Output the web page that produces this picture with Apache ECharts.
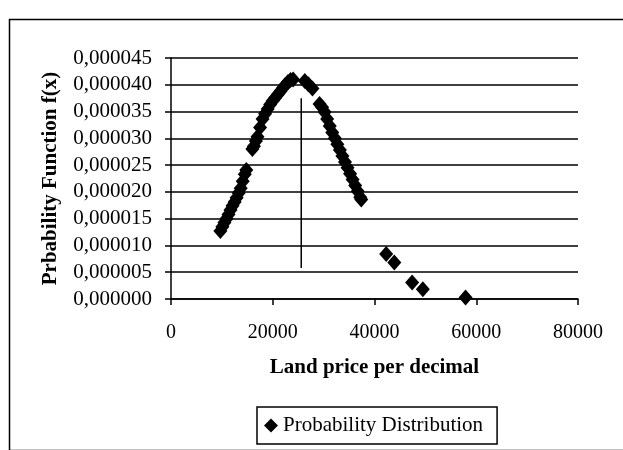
<!DOCTYPE html>
<html>
<head>
<meta charset="utf-8">
<script src="https://cdn.jsdelivr.net/npm/echarts@6/dist/echarts.min.js"></script>
<style>
  html, body { margin: 0; padding: 0; background: #fff; }
  #chart { width: 623px; height: 450px; }
</style>
</head>
<body>
<div id="chart"></div>
<script>
// Land price per decimal (x) and its probability density f(x)
const landPrice = [
  9700, 10100, 10500, 10900, 11300, 11700, 12100, 12500, 12900, 13300, 13700, 14100, 14500, 14800,
  16000, 16300, 16700, 17000, 17500, 18000, 18500, 19000, 19500, 20000, 20500, 21000, 21500, 22000,
  22500, 23000, 23500, 24000,
  26300, 27000, 27800,
  29200, 29700, 30200, 30700, 31200, 31700, 32200, 32700, 33200, 33700, 34200, 34700, 35200, 35700,
  36200, 36700, 37200, 37400,
  42300, 43900, 47400, 49500, 57900
];
const density = [
  0.0000127, 0.0000135, 0.0000143, 0.0000150, 0.0000158, 0.0000166, 0.0000174, 0.0000181, 0.0000189,
  0.0000198, 0.0000207, 0.0000220, 0.0000233, 0.0000241,
  0.0000280, 0.0000285, 0.0000295, 0.0000303, 0.0000320, 0.0000336, 0.0000346, 0.0000355, 0.0000363,
  0.0000370, 0.0000376, 0.0000382, 0.0000388, 0.0000394, 0.0000400, 0.0000405, 0.0000409, 0.0000410,
  0.0000407, 0.0000401, 0.0000393,
  0.0000364, 0.0000358, 0.0000349, 0.0000336, 0.0000323, 0.0000311, 0.0000300, 0.0000289, 0.0000278,
  0.0000267, 0.0000256, 0.0000245, 0.0000234, 0.0000223, 0.0000212, 0.0000201, 0.0000190, 0.0000186,
  0.0000084, 0.0000068, 0.0000031, 0.0000018, 0.0000003
];

// vertical marker line near the mode
const modeLineX = [25600, 25600];
const modeLineY = [0.0000058, 0.0000375];

// axis settings
const xTicks = [0, 20000, 40000, 60000, 80000];
const yMax = 0.000045;
const yStep = 0.000005;

const seriesName = 'Probability Distribution';
const xTitle = 'Land price per decimal';
const yTitle = 'Prbability Function f(x)';

const pts = landPrice.map((x, i) => [x, density[i]]);
const modePts = modeLineX.map((x, i) => [x, modeLineY[i]]);

const serif = 'Liberation Serif, Times New Roman, serif';
const chart = echarts.init(document.getElementById('chart'), null, { renderer: 'canvas' });

chart.setOption({
  backgroundColor: '#ffffff',
  animation: false,
  graphic: [{
    type: 'rect',
    left: 7, top: 17,
    shape: { width: 640, height: 431 },
    style: { fill: 'none', stroke: '#000', lineWidth: 1.5 },
    silent: true
  }],
  grid: { left: 171, right: 45, top: 58, bottom: 151, containLabel: false },
  legend: {
    data: [{ name: seriesName, icon: 'diamond' }],
    left: 257, top: 407,
    itemWidth: 14, itemHeight: 14, itemGap: 5,
    padding: [8, 14, 8, 7],
    borderColor: '#000', borderWidth: 1.5,
    textStyle: { fontFamily: serif, fontSize: 21, color: '#000' }
  },
  xAxis: {
    type: 'value',
    min: xTicks[0], max: xTicks[xTicks.length - 1], interval: xTicks[1] - xTicks[0],
    name: xTitle, nameLocation: 'middle', nameGap: 58,
    nameTextStyle: { fontFamily: serif, fontSize: 21, fontWeight: 'bold', color: '#000' },
    axisLine: { show: true, lineStyle: { color: '#000', width: 1.5 } },
    axisTick: { show: true, length: 6, lineStyle: { color: '#000', width: 1.5 } },
    axisLabel: {
      fontFamily: serif, fontSize: 20, color: '#000', margin: 24,
      formatter: v => String(v)
    },
    splitLine: { show: false }
  },
  yAxis: {
    type: 'value',
    min: 0, max: yMax, interval: yStep,
    name: yTitle, nameLocation: 'middle', nameGap: 110, nameRotate: 90,
    nameTextStyle: { fontFamily: serif, fontSize: 21, fontWeight: 'bold', color: '#000' },
    axisLine: { show: true, lineStyle: { color: '#000', width: 1.5 } },
    axisTick: { show: true, length: 6, lineStyle: { color: '#000', width: 1.5 } },
    axisLabel: {
      fontFamily: serif, fontSize: 21, color: '#000', margin: 19,
      formatter: v => v.toFixed(6).replace('.', ',')
    },
    splitLine: { show: true, lineStyle: { color: '#000', width: 1.5 } }
  },
  series: [
    {
      name: seriesName,
      type: 'scatter',
      data: pts,
      symbol: 'diamond',
      symbolSize: [14, 16],
      itemStyle: { color: '#000', opacity: 1 },
      z: 3
    },
    {
      name: 'mode',
      type: 'line',
      data: modePts,
      symbol: 'none',
      lineStyle: { color: '#000', width: 1.5 },
      z: 2
    }
  ]
});
</script>
</body>
</html>
